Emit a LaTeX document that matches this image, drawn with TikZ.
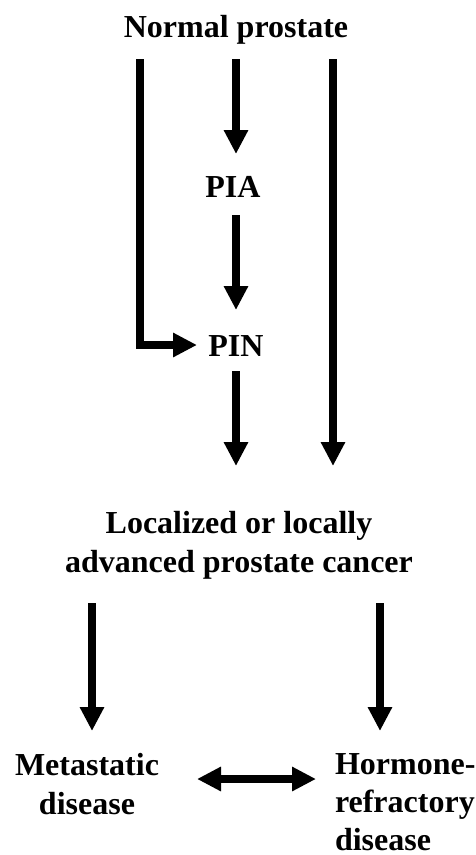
\documentclass[tikz,border=0pt]{standalone}
\usepackage{fontspec}
\setmainfont{Liberation Serif}
\usetikzlibrary{arrows.meta}
\begin{document}
\begin{tikzpicture}[x=1pt,y=-1pt,
  lbl/.style={inner sep=0pt, outer sep=0pt, anchor=base, font=\fontsize{32}{39}\selectfont\bfseries},
  flow/.style={line width=7.5pt, line join=miter, -{Triangle[width=23pt,length=24pt]}},
  flowboth/.style={line width=7.5pt, {Triangle[width=23pt,length=24pt]}-{Triangle[width=23pt,length=24pt]}},
  plain/.style={line width=7.5pt, line join=miter}]
\useasboundingbox (0,0) rectangle (476,855);
\renewcommand{\arraystretch}{1}
% text nodes
\node[lbl] (np) at (236,37) {Normal prostate};
\node[lbl] (pia) at (233,197) {PIA};
\node[lbl] (pin) at (236,356) {PIN};
\node[lbl] (loc) at (239,533) {\begin{tabular}[t]{@{}c@{}}Localized or locally\\advanced prostate cancer\end{tabular}};
\node[lbl] (met) at (87,775) {\begin{tabular}[t]{@{}c@{}}Metastatic\\disease\end{tabular}};
\node[lbl, anchor=base west, font=\fontsize{32}{38}\selectfont\bfseries] (hor) at (335,774) {\begin{tabular}[t]{@{}l@{}}Hormone-\\refractory\\disease\end{tabular}};
% connector ends
\coordinate (l0) at (140,59);
\coordinate (lk) at (140,345);
\coordinate (lt) at (197,345);
\coordinate (m0) at (236,59);
\coordinate (m1) at (236,154);
\coordinate (m2) at (236,215);
\coordinate (m3) at (236,310);
\coordinate (m4) at (236,371);
\coordinate (m5) at (236,466);
\coordinate (r0) at (333,59);
\coordinate (r1) at (333,466);
\coordinate (bl0) at (92,603);
\coordinate (bl1) at (92,731);
\coordinate (br0) at (380,603);
\coordinate (br1) at (380,731);
\coordinate (d0) at (197,779);
\coordinate (d1) at (316,779);
% connectors
\draw[flow] (m0) -- (m1);
\draw[flow] (m2) -- (m3);
\draw[flow] (m4) -- (m5);
\draw[flow] (l0) -- (lk) -- (lt);
\draw[flow] (r0) -- (r1);
\draw[flow] (bl0) -- (bl1);
\draw[flow] (br0) -- (br1);
\draw[flowboth] (d0) -- (d1);
\end{tikzpicture}
\end{document}
